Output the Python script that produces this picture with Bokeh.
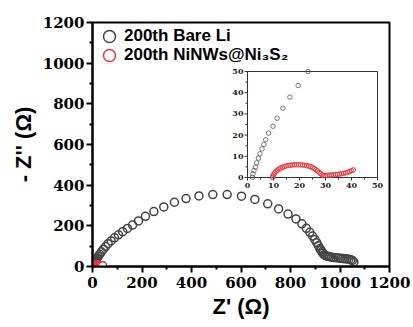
import math
from bokeh.plotting import figure
from bokeh.models import Range1d, FixedTicker, Legend, LegendItem
from bokeh.core.properties import value
from bokeh.embed import file_html
from bokeh.resources import INLINE

# ---- data ----
black_x = [1.9, 2.1, 2.5, 3.1, 3.5, 4.2, 4.8, 5.6, 6.3, 7.0,
           8.1, 9.8, 11.4, 13.6, 16.3, 19.5, 23.3, 29, 36, 44,
           53, 63, 75, 89, 105, 122, 141, 162, 186, 214,
           248, 288, 331, 378, 430, 486, 544, 602, 656, 708,
           752, 790, 822, 846, 864, 878, 889, 898, 906, 913,
           919, 923, 927, 931, 936, 942, 950, 958, 966, 975,
           984, 993, 1002, 1011, 1020, 1028, 1036, 1044, 1050, 1056]
black_y = [0.1, 1.7, 3.3, 4.9, 6.9, 9.1, 11.2, 13.5, 15.6, 17.8,
           20.9, 24.2, 28.0, 32.7, 37.9, 43.4, 50, 60, 72, 85,
           98, 112, 126, 141, 156, 171, 187, 204, 224, 247,
           270, 293, 316, 334, 347, 354, 354, 346, 330, 308,
           283, 258, 234, 210, 188, 168, 150, 133, 117, 102,
           88, 80, 72, 65, 58, 53, 50, 48, 46, 44,
           43, 42, 40, 39, 38, 37, 36, 33, 30, 22]

red_x = [9.6, 9.8, 10.1, 10.5, 11.0, 11.5, 12.1, 12.7, 13.4, 14.1,
         14.8, 15.6, 16.4, 17.2, 18.0, 18.8, 19.6, 20.4, 21.2, 22.0,
         22.8, 23.6, 24.3, 25.0, 25.7, 26.3, 26.9, 27.5, 28.0, 28.6,
         29.2, 29.9, 30.6, 31.4, 32.2, 33.0, 33.8, 34.6, 35.4, 36.2,
         37.0, 37.8, 38.6, 39.3, 40.0, 40.7]
red_y = [0.1, 0.8, 1.5, 2.2, 2.9, 3.5, 4.0, 4.4, 4.8, 5.1,
         5.4, 5.6, 5.8, 5.9, 6.0, 6.0, 6.0, 6.0, 5.9, 5.8,
         5.6, 5.4, 5.1, 4.7, 4.2, 3.7, 3.1, 2.5, 1.9, 1.3,
         0.9, 0.9, 1.0, 1.1, 1.2, 1.3, 1.4, 1.5, 1.6, 1.8,
         2.0, 2.2, 2.5, 2.8, 3.2, 3.6]

main_lim = (0, 1200)
main_ticks = [0, 200, 400, 600, 800, 1000, 1200]
main_minor = [100, 300, 500, 700, 900, 1100]
inset_lim = (0, 50)
inset_ticks = [0, 10, 20, 30, 40, 50]
inset_minor = [5, 15, 25, 35, 45]

label_bare = "200th Bare Li"
label_ni = "200th NiNWs@Ni\u2083S\u2082"
x_title = "Z' (\u03a9)"
y_title = "- Z'' (\u03a9)"

BLACK = "#444444"
RED = "#e8393b"
INSET_LINE = "#333333"
SERIF = "DejaVu Serif"
SANS = "Liberation Sans"

# ---- layout constants (screen pixels) ----
W, H = 413, 327
FL, FR, FT, FB = 92, 389, 22, 266          # main frame edges
IL, IR, IT, IB = 247, 377, 71, 177         # inset frame edges

# ---- main figure ----
p = figure(width=W, height=H, x_range=Range1d(*main_lim), y_range=Range1d(*main_lim),
           output_backend="svg", toolbar_location=None,
           min_border_left=FL, min_border_right=W - FR,
           min_border_top=FT, min_border_bottom=H - FB)
p.background_fill_color = "white"
p.border_fill_color = "white"
p.grid.visible = False
p.outline_line_color = "black"
p.outline_line_width = 2
p.outline_line_alpha = 1

for ax in (p.xaxis[0], p.yaxis[0]):
    ax.ticker = FixedTicker(ticks=main_ticks, minor_ticks=main_minor)
    ax.axis_line_width = 2
    ax.major_tick_line_width = 2
    ax.minor_tick_line_width = 2
    ax.major_tick_in = 0
    ax.major_tick_out = 6
    ax.minor_tick_in = 0
    ax.minor_tick_out = 3
    ax.major_label_text_font = SERIF
    ax.major_label_text_font_style = "bold"
    ax.major_label_text_font_size = "15px"
    ax.major_label_text_color = "black"
    ax.axis_label_text_font = SANS
    ax.axis_label_text_font_style = "bold"
    ax.axis_label_text_font_size = "22px"
    ax.axis_label_text_color = "black"
p.xaxis[0].axis_label = x_title
p.yaxis[0].axis_label = y_title
p.xaxis[0].major_label_standoff = 4
p.yaxis[0].major_label_standoff = 2
p.xaxis[0].axis_label_standoff = 3
p.yaxis[0].axis_label_standoff = 4

rb = p.scatter(black_x, black_y, size=8, marker="circle", line_color=BLACK,
               fill_color=None, line_width=1.5)
rr = p.scatter(red_x, red_y, size=8, marker="circle", line_color=RED,
               fill_color="white", line_width=1.5)

# ---- inset drawn on extra ranges that map the inset box onto 0..50 ----
sx = (IR - IL) / (inset_lim[1] - inset_lim[0])
sy = (IB - IT) / (inset_lim[1] - inset_lim[0])
p.extra_x_ranges = {"ix": Range1d(inset_lim[0] - (IL - FL) / sx, inset_lim[1] + (FR - IR) / sx)}
p.extra_y_ranges = {"iy": Range1d(inset_lim[0] - (FB - IB) / sy, inset_lim[1] + (IT - FT) / sy)}
kw = dict(x_range_name="ix", y_range_name="iy")

p.quad(left=[inset_lim[0]], right=[inset_lim[1]], bottom=[inset_lim[0]], top=[inset_lim[1]],
       fill_color="white", line_color=INSET_LINE, line_width=1, **kw)


def inside(xs, ys):
    pts = [(x, y) for x, y in zip(xs, ys)
           if inset_lim[0] <= x <= inset_lim[1] and inset_lim[0] <= y <= inset_lim[1]]
    return [a for a, _ in pts], [b for _, b in pts]


bx_in, by_in = inside(black_x, black_y)
rx_in, ry_in = inside(red_x, red_y)
p.scatter(bx_in, by_in, size=4.5, marker="circle", line_color="#555555",
          fill_color=None, line_width=0.8, **kw)
p.scatter(rx_in, ry_in, size=4.5, marker="circle", line_color=RED,
          fill_color=None, line_width=1.0, **kw)

# inset ticks
base0 = inset_lim[0]
p.ray(x=inset_ticks, y=[base0] * len(inset_ticks), length=3, length_units="screen",
      angle=-math.pi / 2, line_color=INSET_LINE, line_width=1, **kw)
p.ray(x=inset_minor, y=[base0] * len(inset_minor), length=2, length_units="screen",
      angle=-math.pi / 2, line_color=INSET_LINE, line_width=1, **kw)
p.ray(x=[base0] * len(inset_ticks), y=inset_ticks, length=3, length_units="screen",
      angle=math.pi, line_color=INSET_LINE, line_width=1, **kw)
p.ray(x=[base0] * len(inset_minor), y=inset_minor, length=2, length_units="screen",
      angle=math.pi, line_color=INSET_LINE, line_width=1, **kw)

# inset tick labels
lbl = [str(t) for t in inset_ticks]
p.text(x=inset_ticks, y=[base0] * len(inset_ticks), text=lbl, text_align="center",
       text_baseline="top", y_offset=5, text_font=value(SERIF), text_font_style="bold",
       text_font_size="8px", text_color="#222222", **kw)
p.text(x=[base0] * len(inset_ticks), y=inset_ticks, text=lbl, text_align="right",
       text_baseline="middle", x_offset=-4, text_font=value(SERIF), text_font_style="bold",
       text_font_size="8px", text_color="#222222", **kw)

# ---- legends (one per entry so that rows sit close together) ----
common = dict(glyph_width=30, glyph_height=30, label_height=18, padding=0, margin=0,
              label_standoff=-9, label_text_font=SANS, label_text_font_style="bold",
              label_text_font_size="17px", label_text_color="black",
              background_fill_alpha=0, border_line_alpha=0)
leg1 = Legend(items=[LegendItem(label=label_bare, renderers=[rb])], location=(2, 215), **common)
leg2 = Legend(items=[LegendItem(label=label_ni, renderers=[rr])], location=(2, 196), **common)
p.add_layout(leg1)
p.add_layout(leg2)

open("out.html", "w").write(file_html(p, INLINE))
